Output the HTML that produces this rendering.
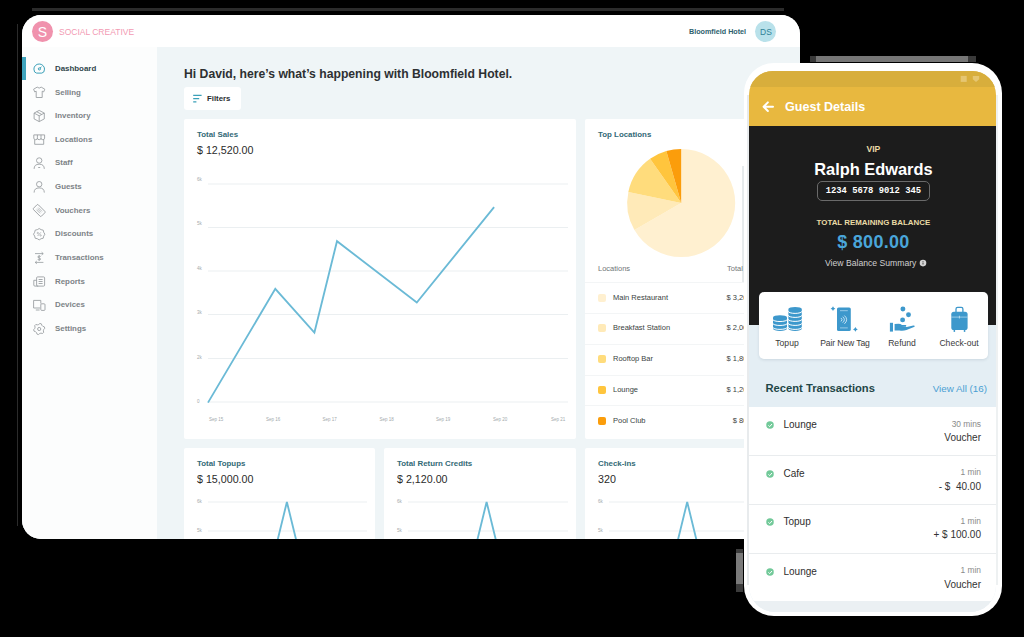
<!DOCTYPE html>
<html>
<head>
<meta charset="utf-8">
<title>Dashboard</title>
<style>
*{box-sizing:border-box;margin:0;padding:0}
html,body{width:1024px;height:637px;overflow:hidden;background:#000;font-family:"Liberation Sans",sans-serif;}
.abs{position:absolute}
.t{position:absolute;white-space:nowrap;line-height:1;transform:translateY(-50%)}
#dash{position:absolute;left:22px;top:15px;width:778px;height:524px;border-radius:19px;background:#eff5f7;overflow:hidden}
#dash .hdr{position:absolute;left:0;top:0;width:778px;height:32px;background:#fff}
#dash .side{position:absolute;left:0;top:32px;width:135px;height:492px;background:#fcfdfd}
.nav{position:absolute;left:33px;font-size:7.9px;color:#7d8387;font-weight:bold;white-space:nowrap;line-height:1;transform:translateY(-50%)}
.card{position:absolute;background:#fff;border-radius:2px}
.ct{position:absolute;font-size:7.9px;font-weight:bold;color:#336a76;white-space:nowrap;line-height:1;transform:translateY(-50%)}
.cv{position:absolute;font-size:10.7px;color:#2a2a2a;white-space:nowrap;line-height:1;transform:translateY(-50%)}
.ax{position:absolute;font-size:4.5px;color:#a3a9ac;white-space:nowrap;line-height:1;transform:translateY(-50%)}
.loc{position:absolute;font-size:7.5px;color:#3a3f42;white-space:nowrap;line-height:1;transform:translateY(-50%)}
.sw{position:absolute;width:8px;height:8px;border-radius:2px}
#phone{position:absolute;left:744px;top:63px;width:258px;height:553px;border-radius:30px;background:#fff}
#scr{position:absolute;left:5px;top:7.5px;width:246.5px;height:541px;border-radius:24px 24px 26px 26px;background:#e4eef4;overflow:hidden}
.pt{position:absolute;white-space:nowrap;line-height:1;transform:translate(-50%,-50%)}
.pl{position:absolute;white-space:nowrap;line-height:1;transform:translateY(-50%)}
.pr{position:absolute;white-space:nowrap;line-height:1;transform:translateY(-50%);right:14.5px;text-align:right}
</style>
</head>
<body>
<!-- artifact bars -->
<div class="abs" style="left:32px;top:8px;width:752px;height:3px;background:#2b2b2b"></div>
<div class="abs" style="left:17px;top:24px;width:1.2px;height:502px;background:#2b2b2b"></div>
<div class="abs" style="left:810px;top:56.4px;width:166px;height:5.6px;background:#3a3a3a"></div>
<div class="abs" style="left:815.6px;top:56.4px;width:152.6px;height:5.6px;background:#767676"></div>
<div class="abs" style="left:736px;top:549px;width:6.6px;height:42.5px;background:#3c3c3c"></div>
<div class="abs" style="left:736px;top:552.8px;width:6.6px;height:31.2px;background:#7a7a7a"></div>

<div id="dash">
  <div class="hdr"></div>
  <div class="side"></div>
  <!-- logo -->
  <div class="abs" style="left:10px;top:6.3px;width:21px;height:21px;border-radius:50%;background:#f092ad"></div>
  <div class="t" style="left:15.8px;top:16.8px;font-size:14px;color:#fff">S</div>
  <div class="t" style="left:37px;top:16.6px;font-size:8.5px;color:#f29ab3">SOCIAL CREATIVE</div>
  <div class="t" style="left:667px;top:17px;font-size:7.2px;font-weight:bold;color:#2d5f6d">Bloomfield Hotel</div>
  <div class="abs" style="left:733.2px;top:6.3px;width:21px;height:21px;border-radius:50%;background:#b9e1ea"></div>
  <div class="t" style="left:738.1px;top:16.8px;font-size:8.5px;color:#2f8196">DS</div>

  <!-- nav -->
  <div class="abs" style="left:0;top:42px;width:4px;height:23px;background:#3fa4bd"></div>
  <div class="nav" style="top:54.4px;color:#30464c">Dashboard</div>
  <div class="nav" style="top:77.9px">Selling</div>
  <div class="nav" style="top:101.4px">Inventory</div>
  <div class="nav" style="top:124.9px">Locations</div>
  <div class="nav" style="top:148.4px">Staff</div>
  <div class="nav" style="top:172.4px">Guests</div>
  <div class="nav" style="top:195.9px">Vouchers</div>
  <div class="nav" style="top:219.4px">Discounts</div>
  <div class="nav" style="top:243.4px">Transactions</div>
  <div class="nav" style="top:266.9px">Reports</div>
  <div class="nav" style="top:290.4px">Devices</div>
  <div class="nav" style="top:314.4px">Settings</div>

  <svg class="abs" style="left:0;top:0" width="160" height="524" viewBox="22 15 160 524">
    <g transform="translate(39.2,68.5)" fill="none" stroke="#969b9e" stroke-width="0.85"><g stroke="#3aa0b8" fill="none" stroke-width="1"><path d="M-5.3,0.6 A5.3,5.1 0 1 1 5.3,0.6 Q5.3,4.3 2.6,4.6 H-2.6 Q-5.3,4.3 -5.3,0.6Z"/><circle cx="0.2" cy="0.4" r="1.1"/><path d="M0.9,-0.4 L2.3,-1.9"/></g></g>
    <g transform="translate(39.2,92.3)" fill="none" stroke="#969b9e" stroke-width="0.85"><path d="M-2,-5.2 L-5.6,-3.1 L-4.5,-0.4 L-3,-1.1 V5.2 H3 V-1.1 L4.5,-0.4 L5.6,-3.1 L2,-5.2 Q0,-3.2 -2,-5.2Z"/></g>
    <g transform="translate(39.2,116)" fill="none" stroke="#969b9e" stroke-width="0.85"><path d="M0,-5.6 L5.1,-2.9 V2.9 L0,5.6 L-5.1,2.9 V-2.9 Z M-5.1,-2.9 L0,-0.2 L5.1,-2.9 M0,-0.2 V5.6 M-2.5,-4.3 L2.6,-1.5"/></g>
    <g transform="translate(39.2,139.5)" fill="none" stroke="#969b9e" stroke-width="0.85"><path d="M-5.4,-4.6 H5.4 V-1.4 A1.8,1.6 0 0 1 1.8,-1.4 A1.8,1.6 0 0 1 -1.8,-1.4 A1.8,1.6 0 0 1 -5.4,-1.4Z M-4.5,0.2 V4.8 H4.5 V0.2 M-1.8,-4.6 V-1.6 M1.8,-4.6 V-1.6"/></g>
    <g transform="translate(39.2,163.3)" fill="none" stroke="#969b9e" stroke-width="0.85"><circle cx="0" cy="-2.8" r="2.7"/><path d="M-5.1,5.6 Q-5.1,0.9 0,0.9 Q5.1,0.9 5.1,5.6 M-1,4.2 H1"/></g>
    <g transform="translate(39.2,187)" fill="none" stroke="#969b9e" stroke-width="0.85"><circle cx="0" cy="-2.8" r="2.7"/><path d="M-5.1,5.6 Q-5.1,0.9 0,0.9 Q5.1,0.9 5.1,5.6"/></g>
    <g transform="translate(39.2,210.5)" fill="none" stroke="#969b9e" stroke-width="0.85"><g transform="rotate(45)"><rect x="-5.6" y="-3.4" width="11.2" height="6.8" rx="1"/><path d="M-2.6,-1.4 H2.6 M-2.6,0 H2.6 M-2.6,1.4 H2.6" stroke-width="0.6"/></g></g>
    <g transform="translate(39.2,234.2)" fill="none" stroke="#969b9e" stroke-width="0.85"><polygon points="0.00,-5.70 1.88,-4.53 4.03,-4.03 4.53,-1.88 5.70,-0.00 4.53,1.88 4.03,4.03 1.88,4.53 0.00,5.70 -1.88,4.53 -4.03,4.03 -4.53,1.88 -5.70,0.00 -4.53,-1.88 -4.03,-4.03 -1.88,-4.53" stroke-linejoin="round"/><path d="M-1.6,1.8 L1.6,-1.8" stroke-width="0.7"/><circle cx="-1.4" cy="-1.2" r="0.7" stroke-width="0.6"/><circle cx="1.4" cy="1.2" r="0.7" stroke-width="0.6"/></g>
    <g transform="translate(39.2,258)" fill="none" stroke="#969b9e" stroke-width="0.85"><path d="M-4.2,-4.4 H4 M2.4,-5.8 L4,-4.4 L2.4,-3 M4.2,4.4 H-4 M-2.4,3 L-4,4.4 L-2.4,5.8 M1.5,-1.5 Q0,-2.4 -1.2,-1.6 Q-2,-0.6 0,0 Q2,0.6 1.2,1.6 Q0,2.4 -1.5,1.5 M0,-2.8 V2.8" stroke-width="0.8"/></g>
    <g transform="translate(39.2,281.5)" fill="none" stroke="#969b9e" stroke-width="0.85"><rect x="-2.6" y="-4.6" width="8" height="9.2" rx="1"/><path d="M-2.6,-1.2 H-5.4 V3.6 Q-5.4,4.6 -4.2,4.6 H-1 M-0.6,-2 H3.4 M-0.6,0 H3.4 M-0.6,2 H3.4" /> </g>
    <g transform="translate(39.2,305)" fill="none" stroke="#969b9e" stroke-width="0.85"><path d="M1.6,-1.4 V-4.6 H-5.6 V3 H1 M-3.4,5 H0.4"/><rect x="1.6" y="-1.2" width="4.2" height="6.6" rx="0.9" fill="#fcfdfd"/></g>
    <g transform="translate(39.2,329)" fill="none" stroke="#969b9e" stroke-width="0.85"><polygon points="0.73,-5.55 2.14,-5.17 2.74,-3.57 3.57,-2.74 5.17,-2.14 5.55,-0.73 4.46,0.59 4.16,1.72 4.44,3.41 3.41,4.44 1.72,4.16 0.59,4.46 -0.73,5.55 -2.14,5.17 -2.74,3.57 -3.57,2.74 -5.17,2.14 -5.55,0.73 -4.46,-0.59 -4.16,-1.72 -4.44,-3.41 -3.41,-4.44 -1.72,-4.16 -0.59,-4.46" stroke-linejoin="round"/><circle r="1.6"/></g>
  </svg>
  <!-- heading -->
  <div class="t" style="left:162px;top:58.5px;font-size:12.2px;font-weight:bold;color:#2d3032">Hi David, here’s what’s happening with Bloomfield Hotel.</div>
  <div class="card" style="left:162px;top:72px;width:56.6px;height:22.5px;border-radius:3px"></div>
  <div class="t" style="left:185px;top:83.5px;font-size:7.8px;font-weight:bold;color:#2a2d2f">Filters</div>
  <svg class="abs" style="left:0;top:0" width="260" height="120" viewBox="22 15 260 120"><path d="M193.2,95.4 H201.6 M193.2,98.6 H199.2 M193.2,101.8 H196.4" stroke="#3aa0b8" stroke-width="1.2" fill="none"/></svg>

  <!-- Total sales -->
  <div class="card" style="left:162px;top:104px;width:392px;height:320px"></div>
  <div class="ct" style="left:175px;top:119.6px">Total Sales</div>
  <div class="cv" style="left:175px;top:134.6px">$ 12,520.00</div>

  <div class="ax" style="left:187px;top:405px">Sep 15</div>
  <div class="ax" style="left:244px;top:405px">Sep 16</div>
  <div class="ax" style="left:300.5px;top:405px">Sep 17</div>
  <div class="ax" style="left:357.5px;top:405px">Sep 18</div>
  <div class="ax" style="left:414px;top:405px">Sep 19</div>
  <div class="ax" style="left:471px;top:405px">Sep 20</div>
  <div class="ax" style="left:529px;top:405px">Sep 21</div>

  <!-- Top locations -->
  <div class="card" style="left:563px;top:104px;width:215px;height:320px"></div>
  <div class="ct" style="left:576px;top:119.6px">Top Locations</div>

  <svg class="abs" style="left:0;top:0.6px" width="778" height="524">
    <path d="M659.2,187.0 L659.20,133.00 A54,54 0 1 1 612.43,214.00 Z" fill="#fff0d0"/>
    <path d="M659.2,187.0 L612.43,214.00 A54,54 0 0 1 606.34,175.96 Z" fill="#ffeab8"/>
    <path d="M659.2,187.0 L606.34,175.96 A54,54 0 0 1 628.07,142.87 Z" fill="#ffdc7c"/>
    <path d="M659.2,187.0 L628.07,142.87 A54,54 0 0 1 644.32,135.09 Z" fill="#ffc53d"/>
    <path d="M659.2,187.0 L644.32,135.09 A54,54 0 0 1 659.20,133.00 Z" fill="#fb9d0b"/>
  </svg>
  <div class="abs" style="left:719.6px;top:151px;width:2.2px;height:117px;background:#e6eaec"></div>
  <div class="loc" style="left:576px;top:254px;color:#6f7477">Locations</div>
  <div class="loc" style="left:705px;top:254px;color:#6f7477">Total Sales</div>
  <div class="abs" style="left:563px;top:267.0px;width:215px;height:1px;background:#f3f5f6"></div>
  <div class="sw" style="left:576px;top:278.5px;background:#fff0d0"></div>
  <div class="loc" style="left:591px;top:282.5px">Main Restaurant</div>
  <div class="loc" style="right:38px;top:282.5px;width:38px;text-align:right;overflow:visible">$ 3,200.00</div>
  <div class="abs" style="left:563px;top:297.5px;width:215px;height:1px;background:#f3f5f6"></div>
  <div class="sw" style="left:576px;top:309px;background:#ffeab8"></div>
  <div class="loc" style="left:591px;top:313px">Breakfast Station</div>
  <div class="loc" style="right:38px;top:313px;width:38px;text-align:right;overflow:visible">$ 2,000.00</div>
  <div class="abs" style="left:563px;top:328.5px;width:215px;height:1px;background:#f3f5f6"></div>
  <div class="sw" style="left:576px;top:340px;background:#ffdc7c"></div>
  <div class="loc" style="left:591px;top:344px">Rooftop Bar</div>
  <div class="loc" style="right:38px;top:344px;width:38px;text-align:right;overflow:visible">$ 1,800.00</div>
  <div class="abs" style="left:563px;top:359.5px;width:215px;height:1px;background:#f3f5f6"></div>
  <div class="sw" style="left:576px;top:371px;background:#ffc53d"></div>
  <div class="loc" style="left:591px;top:375px">Lounge</div>
  <div class="loc" style="right:38px;top:375px;width:38px;text-align:right;overflow:visible">$ 1,200.00</div>
  <div class="abs" style="left:563px;top:390.0px;width:215px;height:1px;background:#f3f5f6"></div>
  <div class="sw" style="left:576px;top:401.5px;background:#fb9d0b"></div>
  <div class="loc" style="left:591px;top:405.5px">Pool Club</div>
  <div class="loc" style="right:38px;top:405.5px;width:38px;text-align:right;overflow:visible">$ 800.00</div>

  <!-- bottom cards -->
  <div class="card" style="left:162px;top:433px;width:191px;height:100px"></div>
  <div class="ct" style="left:175px;top:448.5px">Total Topups</div>
  <div class="cv" style="left:175px;top:463.6px">$ 15,000.00</div>
  <div class="card" style="left:362px;top:433px;width:192px;height:100px"></div>
  <div class="ct" style="left:375px;top:448.5px">Total Return Credits</div>
  <div class="cv" style="left:375px;top:463.6px">$ 2,120.00</div>
  <div class="card" style="left:563px;top:433px;width:215px;height:100px"></div>
  <div class="ct" style="left:576px;top:448.5px">Check-ins</div>
  <div class="cv" style="left:576px;top:463.6px">320</div>
  <svg class="abs" style="left:0;top:0" width="778" height="524" viewBox="22 15 778 524">
    <line x1="208" x2="568" y1="184" y2="184" stroke="#ebeff1" stroke-width="1"/>
    <line x1="208" x2="568" y1="227.5" y2="227.5" stroke="#ebeff1" stroke-width="1"/>
    <line x1="208" x2="568" y1="271" y2="271" stroke="#ebeff1" stroke-width="1"/>
    <line x1="208" x2="568" y1="314.5" y2="314.5" stroke="#ebeff1" stroke-width="1"/>
    <line x1="208" x2="568" y1="358.5" y2="358.5" stroke="#ebeff1" stroke-width="1"/>
    <line x1="208" x2="568" y1="402" y2="402" stroke="#ebeff1" stroke-width="1"/>
    <polyline points="208,402.6 275.3,288.9 314.4,332.5 337,241.2 416.8,302.5 494.1,207.1" fill="none" stroke="#6bbad6" stroke-width="1.85" stroke-linejoin="miter"/>
    <line x1="208" x2="367" y1="502" y2="502" stroke="#ebeff1" stroke-width="1"/>
    <line x1="208" x2="367" y1="531" y2="531" stroke="#ebeff1" stroke-width="1"/>
    <polyline points="276.4,545 286.9,502 297.4,545" fill="none" stroke="#6bbad6" stroke-width="1.85"/>
    <line x1="408" x2="568" y1="502" y2="502" stroke="#ebeff1" stroke-width="1"/>
    <line x1="408" x2="568" y1="531" y2="531" stroke="#ebeff1" stroke-width="1"/>
    <polyline points="476.1,545 486.6,502 497.1,545" fill="none" stroke="#6bbad6" stroke-width="1.85"/>
    <line x1="609" x2="790" y1="502" y2="502" stroke="#ebeff1" stroke-width="1"/>
    <line x1="609" x2="790" y1="531" y2="531" stroke="#ebeff1" stroke-width="1"/>
    <polyline points="676.7,545 687.2,502 697.7,545" fill="none" stroke="#6bbad6" stroke-width="1.85"/>
  </svg>
  <div class="ax" style="left:175px;top:165.0px">6k</div>
  <div class="ax" style="left:175px;top:209.4px">5k</div>
  <div class="ax" style="left:175px;top:253.8px">4k</div>
  <div class="ax" style="left:175px;top:298.2px">3k</div>
  <div class="ax" style="left:175px;top:342.6px">2k</div>
  <div class="ax" style="left:175px;top:386.8px">0</div>
  <div class="ax" style="left:175px;top:487.3px">6k</div>
  <div class="ax" style="left:175px;top:516.0px">5k</div>
  <div class="ax" style="left:375px;top:487.3px">6k</div>
  <div class="ax" style="left:375px;top:516.0px">5k</div>
  <div class="ax" style="left:576px;top:487.3px">6k</div>
  <div class="ax" style="left:576px;top:516.0px">5k</div>
</div>

<div id="phone">
  <div class="abs" style="left:3px;top:32px;width:2px;height:490px;background:#e8ebed"></div>
  <div class="abs" style="left:251.5px;top:32px;width:2px;height:490px;background:#eef1f2"></div>
  <div id="scr">

    <div class="abs" style="left:0;top:0;width:246.5px;height:55.1px;background:#e8b83f"></div>
    <div class="abs" style="left:0;top:0;width:246.5px;height:16.5px;background:#d8ae3c"></div>
    <div class="abs" style="left:0;top:55.1px;width:246.5px;height:199.4px;background:#1c1c1c"></div>
    <div class="pl" style="left:36px;top:36px;font-size:12.55px;font-weight:bold;color:#fff">Guest Details</div>
    <div class="pt" style="left:124.4px;top:78.5px;font-size:8.6px;font-weight:bold;color:#e9dba6">VIP</div>
    <div class="pt" style="left:124.4px;top:98.5px;font-size:16.4px;font-weight:bold;color:#fff">Ralph Edwards</div>
    <div class="abs" style="left:68.2px;top:110.6px;width:112.4px;height:19.6px;border:1px solid #6a6a6a;border-radius:5px"></div>
    <div class="pt" style="left:124.4px;top:120.4px;font-size:8.85px;font-weight:bold;color:#fff;font-family:'Liberation Mono',monospace">1234 5678 9012 345</div>
    <div class="pt" style="left:124.4px;top:152.5px;font-size:7.9px;font-weight:bold;color:#e9dba6">TOTAL REMAINING BALANCE</div>
    <div class="pt" style="left:124.4px;top:171.3px;font-size:18px;letter-spacing:0.25px;font-weight:bold;color:#4aa6da">$ 800.00</div>
    <div class="pl" style="left:76px;top:192px;font-size:8.65px;color:#cfcfcf">View Balance Summary</div>
    <div class="abs" style="left:10.2px;top:221.4px;width:228.4px;height:67.2px;border-radius:5px;background:#fff;box-shadow:0 1px 3px rgba(60,90,110,.15)"></div>
    <div class="pt" style="left:38px;top:272.5px;font-size:8.6px;color:#3a3a3a">Topup</div>
    <div class="pt" style="left:96px;top:272.5px;font-size:8.6px;letter-spacing:-0.12px;color:#3a3a3a">Pair New Tag</div>
    <div class="pt" style="left:153px;top:272.5px;font-size:8.6px;color:#3a3a3a">Refund</div>
    <div class="pt" style="left:210px;top:272.5px;font-size:8.6px;color:#3a3a3a">Check-out</div>
    <div class="pl" style="left:16.5px;top:318.3px;font-size:11.2px;font-weight:bold;color:#1f4647">Recent Transactions</div>
    <div class="pl" style="right:8.5px;top:318px;font-size:9.8px;color:#4a9fd3">View All (16)</div>
    <div class="abs" style="left:0;top:336.6px;width:246.5px;height:194px;background:#fff"></div>
    <div class="abs" style="left:0;top:530.6px;width:246.5px;height:11px;background:#ebf0f3"></div>
    <div class="abs" style="left:17px;top:350.5px;width:8.4px;height:8.4px;border-radius:50%;background:#72c999;transform:scale(.94)"></div>
    <svg class="abs" style="left:17px;top:350.5px" width="8.4" height="8.4" viewBox="0 0 8.4 8.4"><path d="M2.4,4.4 L3.7,5.6 L6,3" fill="none" stroke="#fff" stroke-width="1"/></svg>
    <div class="pl" style="left:34.5px;top:354.1px;font-size:10px;color:#2e2e2e">Lounge</div>
    <div class="pr" style="top:353.0px;font-size:8.4px;color:#8a8a8a">30 mins</div>
    <div class="pr" style="top:367.0px;font-size:10px;color:#333">Voucher</div>
    <div class="abs" style="left:0;top:384.8px;width:246.5px;height:1px;background:#e9ecee"></div>
    <div class="abs" style="left:17px;top:399.8px;width:8.4px;height:8.4px;border-radius:50%;background:#72c999;transform:scale(.94)"></div>
    <svg class="abs" style="left:17px;top:399.8px" width="8.4" height="8.4" viewBox="0 0 8.4 8.4"><path d="M2.4,4.4 L3.7,5.6 L6,3" fill="none" stroke="#fff" stroke-width="1"/></svg>
    <div class="pl" style="left:34.5px;top:403.4px;font-size:10px;color:#2e2e2e">Cafe</div>
    <div class="pr" style="top:401.9px;font-size:8.4px;color:#8a8a8a">1 min</div>
    <div class="pr" style="top:416.5px;font-size:10px;color:#333">- $&nbsp; 40.00</div>
    <div class="abs" style="left:0;top:433.5px;width:246.5px;height:1px;background:#e9ecee"></div>
    <div class="abs" style="left:17px;top:447.7px;width:8.4px;height:8.4px;border-radius:50%;background:#72c999;transform:scale(.94)"></div>
    <svg class="abs" style="left:17px;top:447.7px" width="8.4" height="8.4" viewBox="0 0 8.4 8.4"><path d="M2.4,4.4 L3.7,5.6 L6,3" fill="none" stroke="#fff" stroke-width="1"/></svg>
    <div class="pl" style="left:34.5px;top:451.3px;font-size:10px;color:#2e2e2e">Topup</div>
    <div class="pr" style="top:450.4px;font-size:8.4px;color:#8a8a8a">1 min</div>
    <div class="pr" style="top:464.9px;font-size:10px;color:#333">+ $ 100.00</div>
    <div class="abs" style="left:0;top:482.2px;width:246.5px;height:1px;background:#e9ecee"></div>
    <div class="abs" style="left:17px;top:497.8px;width:8.4px;height:8.4px;border-radius:50%;background:#72c999;transform:scale(.94)"></div>
    <svg class="abs" style="left:17px;top:497.8px" width="8.4" height="8.4" viewBox="0 0 8.4 8.4"><path d="M2.4,4.4 L3.7,5.6 L6,3" fill="none" stroke="#fff" stroke-width="1"/></svg>
    <div class="pl" style="left:34.5px;top:501.4px;font-size:10px;color:#2e2e2e">Lounge</div>
    <div class="pr" style="top:499.6px;font-size:8.4px;color:#8a8a8a">1 min</div>
    <div class="pr" style="top:514.5px;font-size:10px;color:#333">Voucher</div>
    <svg class="abs" style="left:0;top:0" width="246.5" height="541" viewBox="749 70.5 246.5 541"><path d="M773,316.85875 A7.0,2.1587499999999986 0 0 1 787,316.85875 L787,328.24125 A7.0,2.1587499999999986 0 0 1 773,328.24125 Z" fill="#3d98cc"/><path d="M772.7,318.88 A7.3,2.1587499999999986 0 0 0 787.3,318.88" fill="none" stroke="#fff" stroke-width="1.0"/><path d="M772.7,322.81 A7.3,2.1587499999999986 0 0 0 787.3,322.81" fill="none" stroke="#fff" stroke-width="1.0"/><path d="M772.7,326.73 A7.3,2.1587499999999986 0 0 0 787.3,326.73" fill="none" stroke="#fff" stroke-width="1.0"/><path d="M788.4,308.59999999999997 A6.699999999999989,2.2 0 0 1 801.8,308.59999999999997 L801.8,328.2 A6.699999999999989,2.2 0 0 1 788.4,328.2 Z" fill="#3d98cc"/><path d="M788.1,310.70 A6.9999999999999885,2.2 0 0 0 802.0999999999999,310.70" fill="none" stroke="#fff" stroke-width="1.0"/><path d="M788.1,314.70 A6.9999999999999885,2.2 0 0 0 802.0999999999999,314.70" fill="none" stroke="#fff" stroke-width="1.0"/><path d="M788.1,318.70 A6.9999999999999885,2.2 0 0 0 802.0999999999999,318.70" fill="none" stroke="#fff" stroke-width="1.0"/><path d="M788.1,322.70 A6.9999999999999885,2.2 0 0 0 802.0999999999999,322.70" fill="none" stroke="#fff" stroke-width="1.0"/><path d="M788.1,326.70 A6.9999999999999885,2.2 0 0 0 802.0999999999999,326.70" fill="none" stroke="#fff" stroke-width="1.0"/><rect x="837" y="307" width="13.8" height="23.6" rx="1.6" fill="#3d98cc"/><line x1="840" x2="847.8" y1="310.2" y2="310.2" stroke="#bfe0f2" stroke-width="0.7"/><line x1="840" x2="847.8" y1="327.4" y2="327.4" stroke="#bfe0f2" stroke-width="0.7"/><path d="M841.3,317.7 Q843.0999999999999,319.2 841.3,320.7" fill="none" stroke="#e6f4fc" stroke-width="0.8" stroke-linecap="round"/><path d="M843.0,316.5 Q846.0,319.2 843.0,321.9" fill="none" stroke="#e6f4fc" stroke-width="0.8" stroke-linecap="round"/><path d="M844.7,315.3 Q848.9000000000001,319.20000000000005 844.7,323.1" fill="none" stroke="#e6f4fc" stroke-width="0.8" stroke-linecap="round"/><path d="M833,305.8 Q833.528,307.67199999999997 835.4,308.2 Q833.528,308.728 833,310.59999999999997 Q832.472,308.728 830.6,308.2 Q832.472,307.67199999999997 833,305.8Z" fill="#3d98cc"/><path d="M855.4,326.5 Q855.928,328.37199999999996 857.8,328.9 Q855.928,329.428 855.4,331.29999999999995 Q854.872,329.428 853.0,328.9 Q854.872,328.37199999999996 855.4,326.5Z" fill="#3d98cc"/><circle cx="902.9" cy="308.5" r="2.45" fill="#3d98cc"/><circle cx="908.5" cy="314.2" r="2.45" fill="#3d98cc"/><circle cx="902.6" cy="319.4" r="2.45" fill="#3d98cc"/><rect x="889.9" y="322.3" width="3.1" height="8.8" fill="#3d98cc"/><path d="M894.6,323.6 L898.5,323.2 Q900.5,323.3 902,324.4 L905.8,324.6 Q906.8,325.2 906,326.2 L901.5,326.6 L906.8,326.4 L913.3,324.9 Q915.2,324.8 914.6,326.2 L906.5,329.6 Q903,330.6 899.5,330 L894.6,329.9 Z" fill="#3d98cc"/><rect x="951.3" y="311.2" width="16.3" height="18.4" rx="2.6" fill="#3d98cc"/><path d="M956,311.6 V308.4 Q956,306.8 957.6,306.8 H961.3 Q962.9,306.8 962.9,308.4 V311.6" fill="none" stroke="#3d98cc" stroke-width="1.3"/><rect x="953.6" y="329" width="1.5" height="2.4" fill="#3d98cc"/><rect x="963.8" y="329" width="1.5" height="2.4" fill="#3d98cc"/><line x1="951.3" x2="967.6" y1="316.6" y2="316.6" stroke="#d6ecf8" stroke-width="0.6"/><line x1="959.4" x2="959.4" y1="315.2" y2="318" stroke="#d6ecf8" stroke-width="0.7"/><path d="M773,106.2 H764 M767.9,101.9 L763.6,106.2 L767.9,110.5" fill="none" stroke="#fff" stroke-width="2" stroke-linecap="round" stroke-linejoin="round"/><rect x="960.7" y="75.4" width="6" height="6" fill="#e6c672"/><path d="M972.8,75.4 h6.4 v3.4 l-3.2,2.8 l-3.2,-2.8z" fill="#e6c672"/><circle cx="923" cy="262.6" r="3.3" fill="#d4d4d4"/><rect x="922.6" y="262" width="0.8" height="2" fill="#222"/><rect x="922.6" y="260.6" width="0.8" height="0.8" fill="#222"/></svg>
  </div>
</div>
</body>
</html>
